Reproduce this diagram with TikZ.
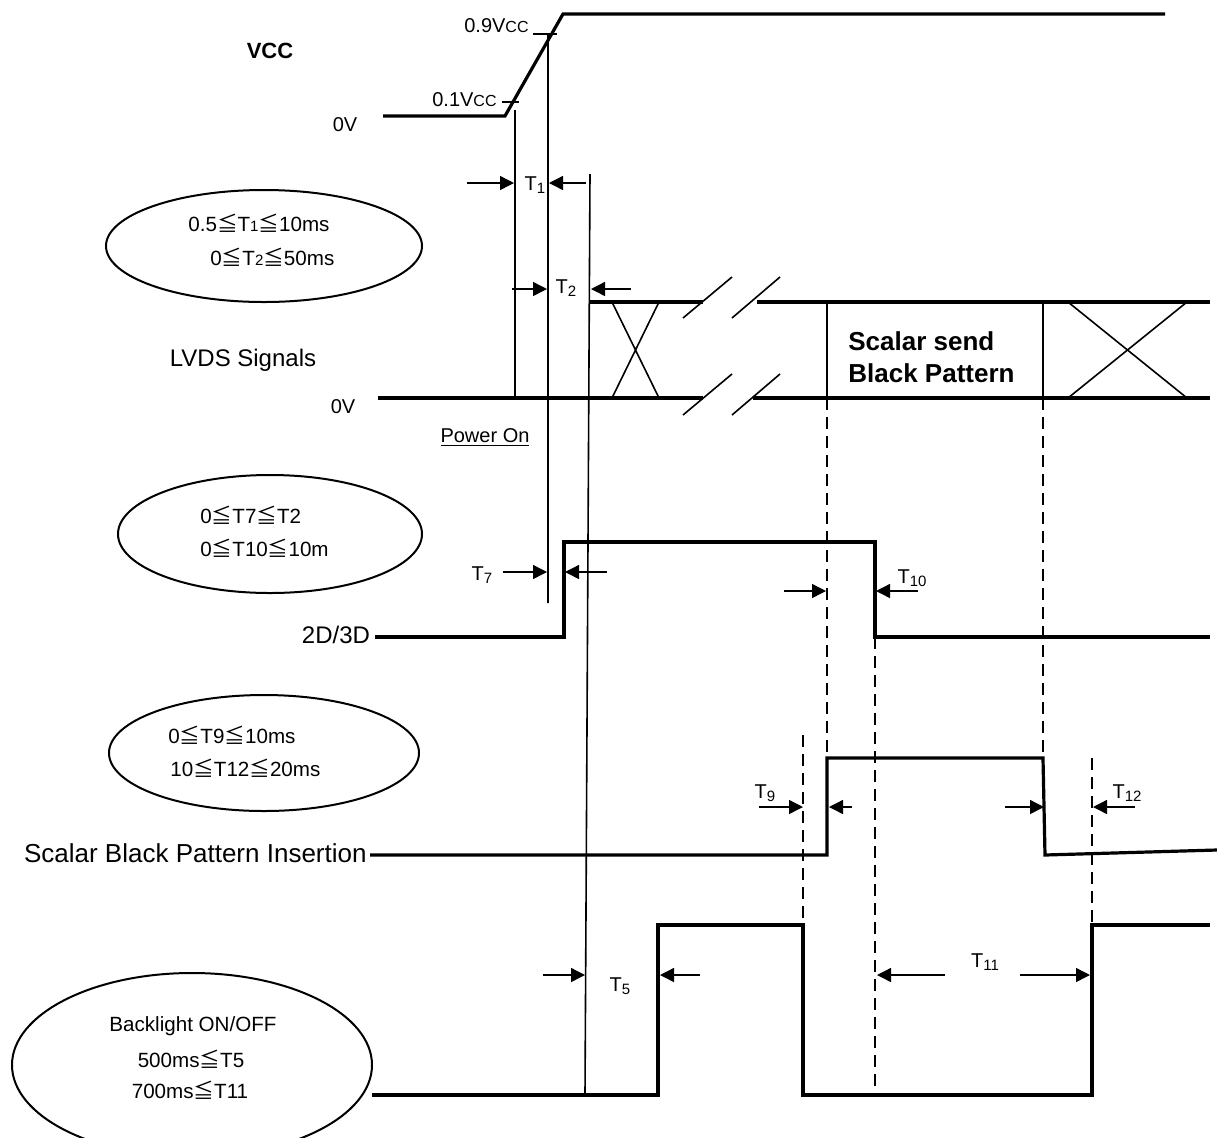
\documentclass[tikz,border=0pt]{standalone}
\usepackage{fontspec}
\setmainfont{Liberation Sans}
\newfontfamily\cjk{Noto Sans CJK SC}
\usetikzlibrary{arrows.meta,positioning}

\newcommand{\leqc}{{\cjk ≦}}
\newcommand{\tsub}[1]{T\raisebox{-0.12em}{\fontsize{7.5}{8}\selectfont #1}}
\newcommand{\tin}[1]{T{\fontsize{7.5}{8}\selectfont #1}}
\newcommand{\smcc}{{\fontsize{8}{9}\selectfont CC}}

\begin{document}
\begin{tikzpicture}[x=0.5pt, y=-0.5pt, inner sep=0pt,
  sig/.style={line width=1.6pt},
  vline/.style={line width=0.8pt},
  dline/.style={line width=0.8pt, dash pattern=on 6pt off 3.5pt},
  gap/.style={line width=0.7pt, -{Triangle[length=7pt,width=7pt]}},
  lbl/.style={font=\fontsize{12}{14}\selectfont},
  bold/.style={font=\fontsize{13}{16}\selectfont\bfseries},
  sm/.style={font=\fontsize{10}{12}\selectfont},
  cond/.style={font=\fontsize{10.3}{12}\selectfont, anchor=west}]
  \useasboundingbox (0,0) rectangle (1217,1137);

  \node[bold, font=\fontsize{11}{13}\selectfont\bfseries] (vcc) at (270,51) {VCC};
  \node[sm] (zero1) at (345,125) {0V};
  \node[sm, anchor=east] (v1) at (497,100) {0.1V\smcc};
  \node[sm, anchor=east] (v9) at (529,26) {0.9V\smcc};
  \draw[sig] (383,116) -- (505,116) -- (563,14) -- (1165,14);
  \draw[vline] (502,102) -- (519,102) (533,34) -- (557,34);
  \draw[vline] (515,110) -- (515,398) (548,34) -- (548,603) (590,174) -- (585,1095);

  \node[sm] (t1) at (535,185) {\tsub{1}};
  \draw[gap] (467,183) -- (514,183);
  \draw[gap] (586,183) -- (549,183);
  \node[sm] (t2) at (566,288) {\tsub{2}};
  \draw[gap] (512,289) -- (547,289);
  \draw[gap] (631,289) -- (591,289);

  \draw[line width=1pt] (264,246) ellipse [x radius=158, y radius=56];
  \node[cond] (c1) at (188,223) {0.5\leqc\tin{1}\leqc10ms};
  \node[cond] (c2) at (210,257) {0\leqc\tin{2}\leqc50ms};

  \node[lbl] (lvds) at (243,360) {LVDS Signals};
  \node[sm] (zero2) at (343,407) {0V};
  \draw[sig] (378,398) -- (703,398) (753,398) -- (1210,398);
  \draw[sig] (590,302) -- (703,302) (757,302) -- (1210,302);
  \draw[vline] (683,318) -- (732,277) (732,318) -- (780,277) (683,415) -- (732,374) (732,415) -- (780,374);
  \draw[vline] (612,302) -- (659,398) (612,398) -- (659,302) (1068,302) -- (1187,398) (1068,398) -- (1187,302);
  \draw[vline] (827,302) -- (827,398) (1043,302) -- (1043,398);
  \node[bold, anchor=west, align=left] (blk) at (848,357) {Scalar send\\Black Pattern};
  \node[sm] (pon) at (485,438) {\underline{Power On}};

  \draw[line width=1pt] (270,534) ellipse [x radius=152, y radius=59];
  \node[cond] (c3) at (200,515) {0\leqc T7\leqc T2};
  \node[cond] (c4) at (200,548) {0\leqc T10\leqc10m};

  \node[lbl] (dd) at (336,635) {2D/3D};
  \draw[sig] (375,637) -- (564,637) -- (564,542) -- (875,542) -- (875,637) -- (1210,637);
  \node[sm] (t7) at (482,575) {\tsub{7}};
  \draw[gap] (503,572) -- (547,572);
  \draw[gap] (607,572) -- (565,572);
  \node[sm] (t10) at (912,578) {\tsub{10}};
  \draw[gap] (784,591) -- (826,591);
  \draw[gap] (918,591) -- (876,591);

  \draw[line width=1pt] (264,753) ellipse [x radius=155, y radius=58];
  \node[cond] (c5) at (168,735) {0\leqc T9\leqc10ms};
  \node[cond] (c6) at (170,768) {10\leqc T12\leqc20ms};

  \node[lbl, font=\fontsize{13}{15}\selectfont, anchor=east] (sbp) at (367,853) {Scalar Black Pattern Insertion};
  \draw[sig] (370,855) -- (827,855) -- (827,758) -- (1043,758) -- (1045,855) -- (1217,850);
  \node[sm] (t9) at (765,793) {\tsub{9}};
  \draw[gap] (759,807) -- (803,807);
  \draw[gap] (852,807) -- (829,807);
  \node[sm] (t12) at (1127,793) {\tsub{12}};
  \draw[gap] (1005,807) -- (1044,807);
  \draw[gap] (1135,807) -- (1093,807);

  \draw[dline] (827,398) -- (827,758) (1043,398) -- (1043,758) (875,637) -- (875,1095) (803,735) -- (803,925) (1092,758) -- (1092,925);

  \draw[line width=1pt] (192,1065) ellipse [x radius=180, y radius=92];
  \node[cond, anchor=center] (c7) at (193,1026) {Backlight ON/OFF};
  \node[cond, anchor=center] (c8) at (191,1059) {500ms\leqc T5};
  \node[cond, anchor=center] (c9) at (190,1090) {700ms\leqc T11};

  \draw[sig] (372,1095) -- (658,1095) -- (658,925) -- (803,925) -- (803,1095) -- (1092,1095) -- (1092,925) -- (1210,925);
  \node[sm] (t5) at (620,986) {\tsub{5}};
  \draw[gap] (543,975) -- (585,975);
  \draw[gap] (700,975) -- (660,975);
  \node[sm] (t11) at (985,962) {\tsub{11}};
  \draw[gap] (945,975) -- (877,975);
  \draw[gap] (1020,975) -- (1090,975);
\end{tikzpicture}
\end{document}
